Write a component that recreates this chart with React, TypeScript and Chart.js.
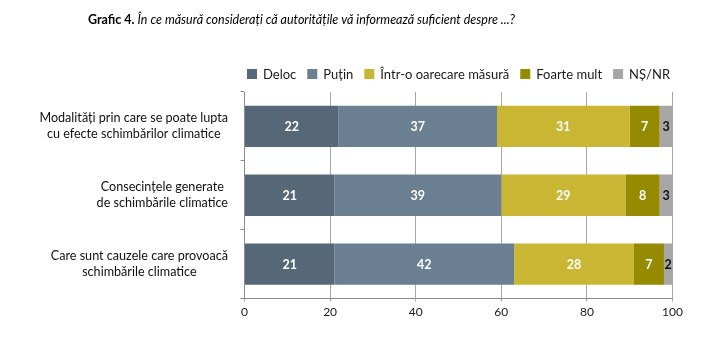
import React, { useEffect, useRef } from "react";
import { Chart, registerables } from "chart.js";

Chart.register(...registerables);

const FONT = "Lato, 'Open Sans', sans-serif";

const TITLE_BOLD = "Grafic 4.";
const TITLE_ITALIC = "În ce măsură considerați că autoritățile vă informează suficient despre ...?";

const categories: string[][] = [
  ["Modalități prin care se poate lupta", "cu efecte schimbărilor climatice"],
  ["Consecințele generate", "de schimbările climatice"],
  ["Care sunt cauzele care provoacă", "schimbările climatice"],
];

const seriesNames = ["Deloc", "Puțin", "Într-o oarecare măsură", "Foarte mult", "NȘ/NR"];
const deloc = [22, 21, 21];
const putin = [37, 39, 42];
const oarecare = [31, 29, 28];
const foarteMult = [7, 8, 7];
const nsnr = [3, 3, 2];

const seriesColors = ["#566878", "#6b7f92", "#c9b632", "#958a00", "#a6a6a6"];
const labelColors = ["#ffffff", "#ffffff", "#ffffff", "#ffffff", "#111111"];

const xTicks = [0, 20, 40, 60, 80, 100];

const customPlugin = {
  id: "customDraw",
  afterDraw(chart: any) {
    const ctx: CanvasRenderingContext2D = chart.ctx;
    const area = chart.chartArea;
    ctx.save();

    // Title
    ctx.textAlign = "left";
    ctx.textBaseline = "alphabetic";
    ctx.fillStyle = "#000000";
    ctx.font = `bold 12.5px ${FONT}`;
    const tx = 80;
    const ty = 16;
    ctx.fillText(TITLE_BOLD, tx, ty);
    const bw = ctx.measureText(TITLE_BOLD + " ").width;
    ctx.font = `italic 12.5px ${FONT}`;
    ctx.fillText(TITLE_ITALIC, tx + bw, ty);

    // Legend
    ctx.font = `13px ${FONT}`;
    const box = 10;
    const gap = 6;
    const spacing = 11;
    const widths = seriesNames.map((n) => box + gap + ctx.measureText(n).width);
    const total = widths.reduce((a, b) => a + b, 0) + spacing * (seriesNames.length - 1);
    let lx = (area.left + area.right) / 2 - total / 2;
    const ly = 66;
    ctx.textBaseline = "middle";
    seriesNames.forEach((n, i) => {
      ctx.fillStyle = seriesColors[i];
      ctx.fillRect(lx, ly - box / 2, box, box);
      ctx.fillStyle = "#1a1a1a";
      ctx.fillText(n, lx + box + gap, ly + 0.5);
      lx += widths[i] + spacing;
    });

    // Y labels (each centered on its own widest line, right aligned as a block)
    const yScale = chart.scales.y;
    ctx.font = `12.6px ${FONT}`;
    ctx.fillStyle = "#111111";
    ctx.textAlign = "center";
    const rightEdge = 220;
    const lineH = 16;
    categories.forEach((lines, i) => {
      const cy = yScale.getPixelForValue(i);
      const widest = Math.max(...lines.map((l) => ctx.measureText(l).width));
      const cx = rightEdge - widest / 2;
      lines.forEach((l, j) => {
        const y = cy + (j - (lines.length - 1) / 2) * lineH;
        ctx.fillText(l, cx, y);
      });
    });

    // Data labels
    ctx.font = `bold 12.5px ${FONT}`;
    ctx.textAlign = "center";
    ctx.textBaseline = "middle";
    chart.data.datasets.forEach((ds: any, di: number) => {
      const meta = chart.getDatasetMeta(di);
      meta.data.forEach((el: any, i: number) => {
        const v = ds.data[i];
        const x = (el.x + el.base) / 2;
        ctx.fillStyle = labelColors[di];
        ctx.fillText(String(v), x, el.y + 0.5);
      });
    });

    ctx.restore();
  },
};

export default function App() {
  const ref = useRef<HTMLCanvasElement | null>(null);

  useEffect(() => {
    if (!ref.current) return;
    const data = [deloc, putin, oarecare, foarteMult, nsnr];
    const chart = new Chart(ref.current, {
      type: "bar",
      data: {
        labels: categories.map((c) => c.join(" ")),
        datasets: seriesNames.map((name, i) => ({
          label: name,
          data: data[i],
          backgroundColor: seriesColors[i],
          borderWidth: 0,
          barPercentage: 0.6,
          categoryPercentage: 1.0,
        })),
      },
      options: {
        indexAxis: "y",
        animation: false,
        responsive: true,
        maintainAspectRatio: false,
        layout: { padding: { top: 84, right: 31.5, left: 0, bottom: 0 } },
        plugins: {
          legend: { display: false },
          tooltip: { enabled: false },
          title: { display: false },
        },
        scales: {
          x: {
            type: "linear",
            stacked: true,
            min: 0,
            max: 100,
            afterBuildTicks: (scale: any) => {
              scale.ticks = xTicks.map((v) => ({ value: v }));
            },
            ticks: {
              font: { family: FONT, size: 12 },
              color: "#1a1a1a",
              padding: 3,
              maxRotation: 0,
            },
            grid: {
              color: "#a8a8a8",
              lineWidth: 1,
              tickLength: 3,
              drawTicks: true,
            },
            border: { color: "#8c8c8c", width: 1 },
            afterFit: (scale: any) => {
              scale.height = 41.5;
            },
          },
          y: {
            type: "category",
            stacked: true,
            offset: true,
            ticks: { display: false },
            grid: {
              offset: true,
              drawOnChartArea: false,
              drawTicks: true,
              tickLength: 4,
              color: "#8c8c8c",
            },
            border: { color: "#8c8c8c", width: 1 },
            afterFit: (scale: any) => {
              scale.width = 236.5;
            },
          },
        },
      },
      plugins: [customPlugin],
    });
    return () => chart.destroy();
  }, []);

  return (
    <div style={{ width: 696, height: 332, position: "relative" }}>
      <canvas ref={ref} />
    </div>
  );
}
